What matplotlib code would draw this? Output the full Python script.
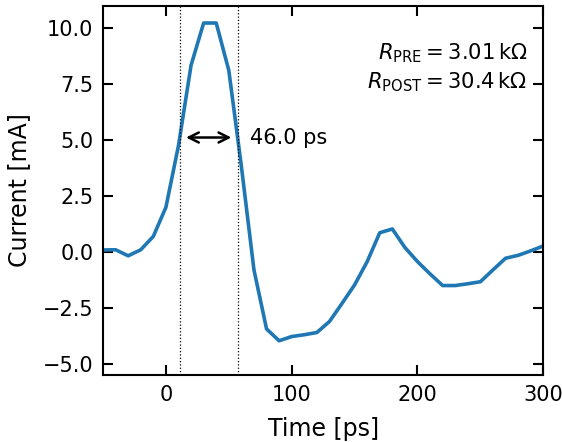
import numpy as np
import matplotlib
matplotlib.use('Agg')
import matplotlib.pyplot as plt

# time axis [ps] and measured current [mA]
time_ps = [-50, -40, -30, -20, -10, 0, 10, 20, 30, 40, 50, 60, 70, 80, 90,
           100, 110, 120, 130, 140, 150, 160, 170, 180, 190, 200, 210, 220,
           230, 240, 250, 260, 270, 280, 290, 300]
current_mA = [0.09, 0.1, -0.17, 0.1, 0.7, 2.0, 4.76, 8.35, 10.24, 10.24,
              8.12, 3.83, -0.8, -3.44, -3.97, -3.78, -3.7, -3.6, -3.11,
              -2.3, -1.47, -0.43, 0.86, 1.03, 0.2, -0.43, -0.98, -1.5,
              -1.5, -1.42, -1.33, -0.8, -0.28, -0.15, 0.05, 0.27]

r_pre_label = r'$R_\mathrm{PRE} = 3.01\,\mathrm{k\Omega}$'
r_post_label = r'$R_\mathrm{POST} = 30.4\,\mathrm{k\Omega}$'

#==========================================================================
# FWHM from the data
#==========================================================================
t = np.array(time_ps, dtype=float)
y = np.array(current_mA, dtype=float)
half = y.max() / 2.0
i_pk = int(np.argmax(y))
# rising edge
i1 = np.where(y[:i_pk] < half)[0][-1]
t_left = t[i1] + (half - y[i1]) * (t[i1 + 1] - t[i1]) / (y[i1 + 1] - y[i1])
# falling edge
i2 = i_pk + np.where(y[i_pk:] < half)[0][0]
t_right = t[i2 - 1] + (half - y[i2 - 1]) * (t[i2] - t[i2 - 1]) / (y[i2] - y[i2 - 1])
fwhm = t_right - t_left

plt.rcParams['mathtext.fontset'] = 'dejavusans'

fig = plt.figure(figsize=(5.62, 4.42), dpi=100)
ax = fig.add_axes([0.1833, 0.1516, 0.7834, 0.8348])

ax.plot(t, y, color='#1f77b4', linewidth=2.6)
ax.axvline(t_left, color='black', linestyle=':', linewidth=0.9)
ax.axvline(t_right, color='black', linestyle=':', linewidth=0.9)
ax.annotate('', xy=(t_left, half), xytext=(t_right, half),
            arrowprops=dict(arrowstyle='<->', color='black', lw=1.8,
                            shrinkA=4.5, shrinkB=4.5, mutation_scale=18))
ax.text(t_right + 10, half, '%.1f ps' % fwhm, fontsize=15,
        va='center', ha='left')

ax.text(0.964, 0.873, r_pre_label, transform=ax.transAxes, fontsize=15.2,
        ha='right', va='center')
ax.text(0.964, 0.794, r_post_label, transform=ax.transAxes, fontsize=15.2,
        ha='right', va='center')

ax.set_xlim(-50, 300)
ax.set_ylim(-5.5, 11.0)
ax.set_xticks([0, 100, 200, 300])
ax.set_yticks([-5.0, -2.5, 0.0, 2.5, 5.0, 7.5, 10.0])
ax.yaxis.set_major_formatter(matplotlib.ticker.FuncFormatter(
    lambda v, pos: ('%.1f' % v).replace('-', '\u2212')))
ax.tick_params(direction='in', top=True, right=True, length=7, width=1.5,
               labelsize=15, pad=7)
for sp in ax.spines.values():
    sp.set_linewidth(1.5)

ax.set_xlabel('Time [ps]', fontsize=17, labelpad=9)
ax.set_ylabel('Current [mA]', fontsize=17, labelpad=8)

fig.savefig('out.png', dpi=100)
